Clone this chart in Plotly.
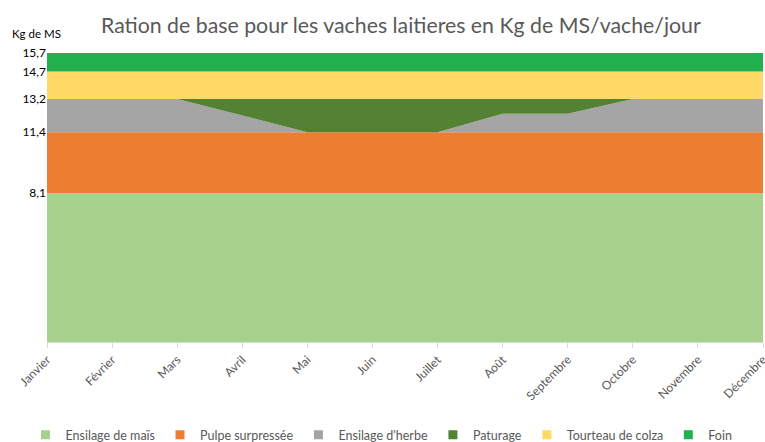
import plotly.graph_objects as go

months = ["Janvier", "Février", "Mars", "Avril", "Mai", "Juin", "Juillet",
          "Août", "Septembre", "Octobre", "Novembre", "Décembre"]
mais = [8.1] * 12
pulpe = [3.3] * 12
herbe = [1.8, 1.8, 1.8, 0.9, 0.0, 0.0, 0.0, 1.0, 1.0, 1.8, 1.8, 1.8]
paturage = [0.0, 0.0, 0.0, 0.9, 1.8, 1.8, 1.8, 0.8, 0.8, 0.0, 0.0, 0.0]
tourteau = [1.5] * 12
foin = [1.0] * 12
y_ticks = [8.1, 11.4, 13.2, 14.7, 15.7]
y_ticktext = ["8,1", "11,4", "13,2", "14,7", "15,7"]

series = [
    ("Ensilage de maïs", mais, "#A9D18E"),
    ("Pulpe surpressée", pulpe, "#ED7D31"),
    ("Ensilage d'herbe", herbe, "#A5A5A5"),
    ("Paturage", paturage, "#548235"),
    ("Tourteau de colza", tourteau, "#FFD966"),
    ("Foin", foin, "#21B14F"),
]

x = list(range(len(months)))
fig = go.Figure()
for name, vals, col in series:
    fig.add_trace(go.Scatter(
        x=x, y=vals, name=name, stackgroup="one", mode="none",
        fillcolor=col, line=dict(width=0), hoverinfo="x+y+name",
        showlegend=False, legendgroup=name,
    ))
# legend entries with small square swatches
for name, vals, col in series:
    fig.add_trace(go.Scatter(
        x=[None], y=[None], name=name, mode="markers", legendgroup=name,
        marker=dict(symbol="square", size=9, color=col), showlegend=True,
    ))

font = "Lato, 'Open Sans', sans-serif"
fig.update_layout(
    width=765, height=442,
    margin=dict(l=47, r=2, t=53, b=100, autoexpand=False),
    paper_bgcolor="white", plot_bgcolor="white",
    font=dict(family=font, size=12, color="#000000"),
    title=dict(text="Ration de base pour les vaches laitieres en Kg de MS/vache/jour",
               x=0.524, xanchor="center", yref="container", y=0.943, yanchor="middle",
               font=dict(family=font, size=21.3, color="#595959")),
    showlegend=True,
    legend=dict(orientation="h", x=-0.03, xanchor="left",
                y=-0.322, yanchor="middle",
                font=dict(family=font, size=12.5, color="#595959"),
                traceorder="normal", itemwidth=30, tracegroupgap=0),
    xaxis=dict(range=[0, 11], tickvals=x, ticktext=months, tickangle=-45,
               automargin=False, ticklabeloverflow="allow",
               showgrid=False, zeroline=False, showline=True, linecolor="#D9D9D9",
               ticks="outside", ticklen=5, tickcolor="#D9D9D9",
               tickfont=dict(family=font, size=12, color="#595959")),
    yaxis=dict(range=[0, 15.7], tickvals=y_ticks, ticktext=y_ticktext,
               automargin=False,
               showgrid=False, zeroline=False, showline=False, ticks="",
               tickfont=dict(family=font, size=12, color="#000000")),
)
fig.add_annotation(text="Kg de MS", xref="paper", yref="paper", x=-0.0517, y=1.0,
                   yshift=20, xanchor="left", yanchor="middle", showarrow=False,
                   font=dict(family=font, size=11.5, color="#000000"))
fig.write_html(
    "out.html",
    config={"displayModeBar": False},
    post_script="document.body.style.margin='0';document.body.style.overflow='hidden';",
)
